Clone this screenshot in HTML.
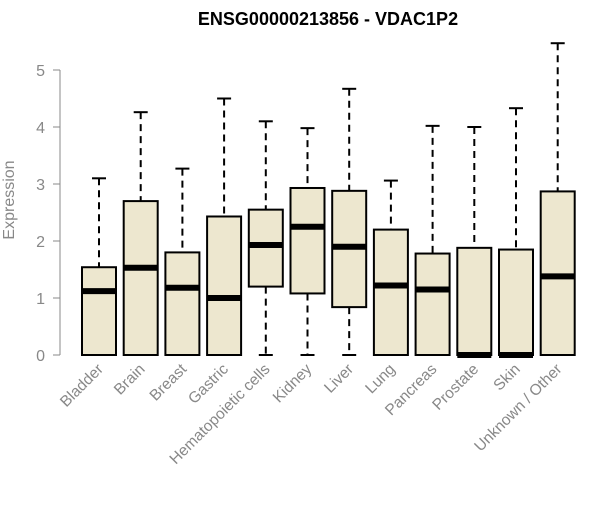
<!DOCTYPE html>
<html><head><meta charset="utf-8"><style>
body{margin:0;background:#fff;}
svg{font-family:"Liberation Sans",Arial,sans-serif;}
</style></head><body>
<svg id="chart" width="600" height="500">
<text x="328" y="25" text-anchor="middle" font-size="18" font-weight="bold">ENSG00000213856 - VDAC1P2</text>
<text transform="translate(14,200) rotate(-90)" text-anchor="middle" font-size="16" fill="#888">Expression</text>
<g id="yaxis"></g>
<g id="boxes"></g>
<g id="xlabels"></g>
</svg>
<script>
const categories=["Bladder","Brain","Breast","Gastric","Hematopoietic cells","Kidney","Liver","Lung","Pancreas","Prostate","Skin","Unknown / Other"];
const whiskerHigh=[3.1,4.26,3.27,4.5,4.1,3.98,4.67,3.06,4.02,4.0,4.33,5.47];
const q3=[1.54,2.7,1.8,2.43,2.55,2.93,2.88,2.2,1.78,1.88,1.85,2.87];
const medians=[1.12,1.53,1.18,1.0,1.93,2.25,1.9,1.22,1.15,0,0,1.38];
const q1=[0,0,0,0,1.2,1.08,0.84,0,0,0,0,0];
const whiskerLow=[0,0,0,0,0,0,0,0,0,0,0,0];
const yTicks=[0,1,2,3,4,5];
const NS="http://www.w3.org/2000/svg";
function y(v){return 355-v*57;}
function x(i){return 99+i*41.7;}
function mk(t,a,p){const e=document.createElementNS(NS,t);for(const k in a)e.setAttribute(k,a[k]);p.appendChild(e);return e;}
const ya=document.getElementById('yaxis');
let l=mk('line',{x1:60,x2:60,y1:y(5),y2:y(0),stroke:'#888'},ya);


yTicks.forEach(t=>{
 const tk=mk('line',{x1:53,x2:60,y1:y(t),y2:y(t),stroke:'#888'},ya);
 
 
 const tx=mk('text',{x:45,y:y(t)+6,'text-anchor':'end','font-size':16,fill:'#888'},ya);
 tx.textContent=t;
 
 
});
const bx=document.getElementById('boxes'),xl=document.getElementById('xlabels');
const hw=17;
categories.forEach((c,i)=>{
 const g=mk('g',{},bx);
 
 
 const cx=x(i);
 mk('line',{x1:cx,x2:cx,y1:y(whiskerHigh[i]),y2:y(q3[i]),stroke:'#000','stroke-width':2,'stroke-dasharray':'7,5'},g);
 mk('line',{x1:cx-7,x2:cx+7,y1:y(whiskerHigh[i]),y2:y(whiskerHigh[i]),stroke:'#000','stroke-width':2},g);
 if(q1[i]>whiskerLow[i]){
  mk('line',{x1:cx,x2:cx,y1:y(q1[i]),y2:y(whiskerLow[i]),stroke:'#000','stroke-width':2,'stroke-dasharray':'7,5'},g);
  mk('line',{x1:cx-7,x2:cx+7,y1:y(whiskerLow[i]),y2:y(whiskerLow[i]),stroke:'#000','stroke-width':2},g);
 }
 mk('rect',{x:cx-hw,y:y(q3[i]),width:hw*2,height:y(q1[i])-y(q3[i]),fill:'#ede7cf',stroke:'#000','stroke-width':2},g);
 mk('line',{x1:cx-hw,x2:cx+hw,y1:y(medians[i]),y2:y(medians[i]),stroke:'#000','stroke-width':6},g);
 const t=mk('text',{transform:`translate(${cx+5},${370}) rotate(-45)`,'text-anchor':'end','font-size':15.5,fill:'#888'},xl);
 t.textContent=c;
 
 
});
</script>
</body></html>
